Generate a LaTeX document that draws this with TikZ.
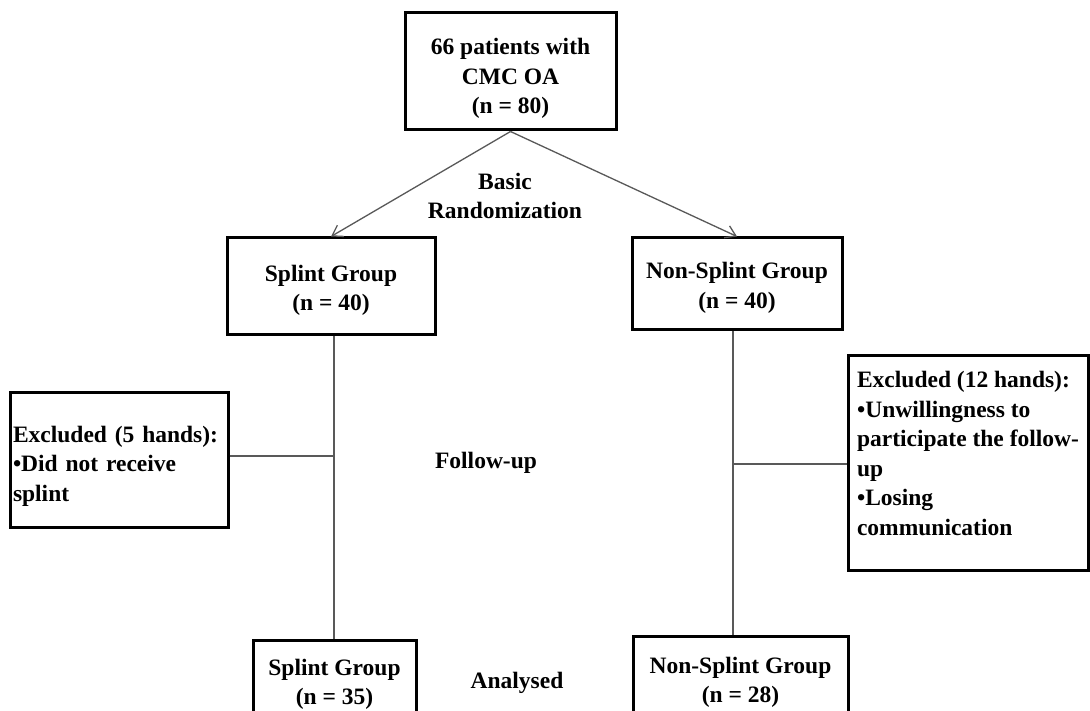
\documentclass[tikz,border=0pt]{standalone}
\usepackage{fontspec}
\setmainfont{Liberation Serif}
\usetikzlibrary{arrows.meta}
\begin{document}
\begin{tikzpicture}[x=1pt,y=-1pt,
  every node/.style={font=\fontsize{23.5}{29.5}\selectfont\bfseries},
  box/.style={draw=black,line width=3pt,rectangle,align=center,inner sep=2pt},
  lbl/.style={align=center,inner sep=0pt},
  conn/.style={draw=black!65,line width=1.3pt},
  arr/.style={conn,-{Straight Barb[length=10pt,width=13pt,line width=1.3pt]}}]
\useasboundingbox (0,0) rectangle (1090,711);
\clip (0,0) rectangle (1090,711);
\fill[white] (0,0) rectangle (1090,711);

\node[box,minimum width=211pt,minimum height=117pt] (top) at (510.5,71.5)
  {\rule{0pt}{31pt}66 patients with\\CMC OA\\(n = 80)};
\node[box,minimum width=208pt,minimum height=97pt] (splint) at (331,286.5)
  {\rule{0pt}{24pt}Splint Group\\(n = 40)};
\node[box,minimum width=210pt,minimum height=92pt] (nonsplint) at (737,284)
  {\rule{0pt}{24pt}Non-Splint Group\\(n = 40)};
\node[box,text width=212pt,align=left,inner xsep=3pt,minimum height=135pt] (exclL) at (119,459.5)
  {\rule{0pt}{30pt}Excluded (5 hands):\\•Did not receive\\splint};
\node[box,align=left,minimum width=240pt,minimum height=214pt] (exclR) at (968,463)
  {Excluded (12 hands):\\•Unwillingness to\\participate the follow-\\up\\•Losing\\communication\rule[-19pt]{0pt}{0pt}};
\node[box,anchor=north,minimum width=163pt,minimum height=88pt] (splint2) at (334.5,639)
  {Splint Group\\(n = 35)};
\node[box,anchor=north,minimum width=215pt,minimum height=92pt] (nonsplint2) at (740.5,635)
  {Non-Splint Group\\(n = 28)};

\node[lbl] (rand) at (505,196) {Basic\\Randomization};
\node[lbl] (fu) at (486,463) {Follow-up};
\node[lbl] (an) at (517,683) {Analysed};

\coordinate (lc) at (334,456);
\coordinate (rc) at (733,464);

\draw[arr] (top.south) -- (splint.north);
\draw[arr] (top.south) -- (nonsplint.north);
\draw[conn] (splint.south -| lc) -- (splint2.north -| lc);
\draw[conn] (exclL.east |- lc) -- (lc);
\draw[conn] (nonsplint.south -| rc) -- (nonsplint2.north -| rc);
\draw[conn] (rc) -- (exclR.west |- rc);
\end{tikzpicture}
\end{document}
